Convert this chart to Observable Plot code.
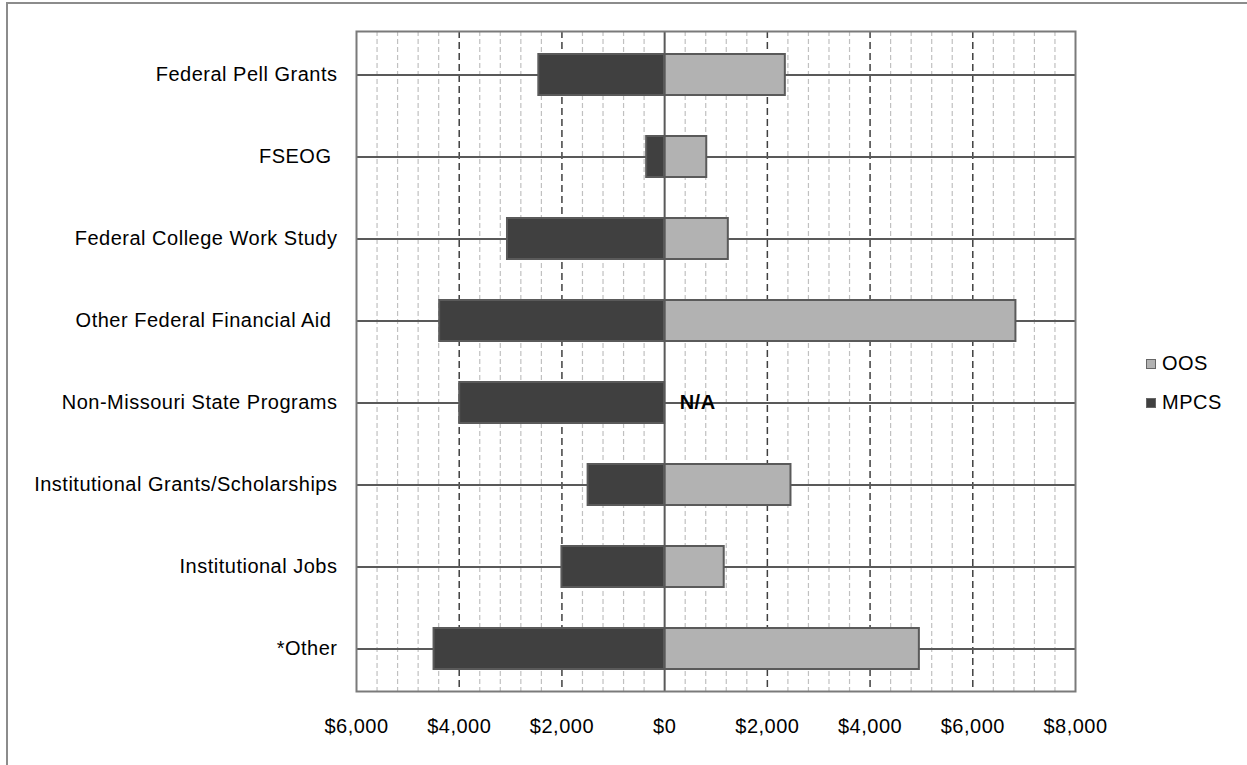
<!DOCTYPE html>
<html>
<head>
<meta charset="utf-8">
<script src="https://cdn.jsdelivr.net/npm/d3@7"></script>
<script src="https://cdn.jsdelivr.net/npm/@observablehq/plot@0.6"></script>
<style>
  html, body { margin: 0; padding: 0; background: #fff; overflow: hidden; }
  #wrap { position: relative; width: 1247px; height: 765px; }
  #outer { position: absolute; left: 6px; top: 2px; width: 1400px; height: 900px; border: 2px solid #8c8c8c; box-sizing: border-box; pointer-events: none; }
  #chart { position: absolute; left: 0; top: 0; }
  .legend { position: absolute; left: 1146px; font-family: "Liberation Sans", Arial, sans-serif; font-size: 20px; letter-spacing: 0.5px; color: #000; display: flex; align-items: center; }
  .legend .sw { width: 8px; height: 8px; border: 1.5px solid #666; margin-right: 6px; }
</style>
</head>
<body>
<div id="wrap">
  <div id="outer"></div>
  <div id="chart"></div>
  <div class="legend" style="top:352px"><span class="sw" id="sw0"></span><span id="lg0"></span></div>
  <div class="legend" style="top:391px"><span class="sw" id="sw1"></span><span id="lg1"></span></div>
</div>
<script>
const categories = [
  "Federal Pell Grants",
  "FSEOG ",
  "Federal College Work Study",
  "Other Federal Financial Aid ",
  "Non-Missouri State Programs",
  "Institutional Grants/Scholarships",
  "Institutional Jobs",
  "*Other"
];
const mpcsValues = [2450, 350, 3060, 4380, 3990, 1490, 2000, 4490];
const oosValues  = [2350, 820, 1240, 6840, null, 2460, 1160, 4960];
const seriesNames = ["OOS", "MPCS"];
const seriesColors = ["#b2b2b2", "#404040"];
const xTicks = [-6000, -4000, -2000, 0, 2000, 4000, 6000, 8000];
const minorStep = 400;

const mpcsData = categories.map((c, i) => ({cat: c, value: mpcsValues[i]}));
const oosData = categories.map((c, i) => ({cat: c, value: oosValues[i]})).filter(d => d.value != null);
const naData = categories.map((c, i) => ({cat: c, value: oosValues[i]})).filter(d => d.value == null);
const minorTicks = d3.range(xTicks[0], xTicks[xTicks.length - 1] + 1, minorStep).filter(v => !xTicks.includes(v));
const majorTicks = xTicks.filter(v => v !== 0 && v !== xTicks[0] && v !== xTicks[xTicks.length - 1]);

const chart = Plot.plot({
  width: 1247,
  height: 765,
  marginLeft: 356,
  marginRight: 172,
  marginTop: 31,
  marginBottom: 74,
  style: {fontFamily: "'Liberation Sans', Arial, sans-serif", fontSize: "20px", letterSpacing: "0.5px", color: "#000", background: "transparent"},
  x: {domain: [xTicks[0], xTicks[xTicks.length - 1]], ticks: xTicks, tickFormat: d => "$" + d3.format(",")(Math.abs(d)), tickSize: 0, tickPadding: 27, label: null},
  y: {domain: categories, paddingInner: 0.5, paddingOuter: 0.25, tickSize: 0, tickPadding: 19, label: null},
  marks: [
    Plot.ruleX(minorTicks, {x: d => d, stroke: "#c0c0c0", strokeWidth: 1.2, strokeDasharray: "5,3"}),
    Plot.ruleX(majorTicks, {x: d => d, stroke: "#404040", strokeWidth: 1.5, strokeDasharray: "7,4"}),
    Plot.tickY(categories, {y: d => d, stroke: "#595959", strokeWidth: 2}),
    Plot.barX(mpcsData, {x1: d => -d.value, x2: 0, y: "cat", fill: seriesColors[1], stroke: "#5a5a5a", strokeWidth: 2}),
    Plot.barX(oosData, {x1: 0, x2: d => d.value, y: "cat", fill: seriesColors[0], stroke: "#5a5a5a", strokeWidth: 2}),
    Plot.ruleX([0], {stroke: "#595959", strokeWidth: 2}),
    Plot.frame({stroke: "#7a7a7a", strokeWidth: 2}),
    Plot.text(naData, {x: () => 0, y: "cat", text: () => "N/A", dx: 15, textAnchor: "start", fontWeight: "bold", fill: "#000", fontSize: 20})
  ]
});
document.getElementById("chart").appendChild(chart);
document.getElementById("sw0").style.background = seriesColors[0];
document.getElementById("sw1").style.background = seriesColors[1];
document.getElementById("lg0").textContent = seriesNames[0];
document.getElementById("lg1").textContent = seriesNames[1];
</script>
</body>
</html>
